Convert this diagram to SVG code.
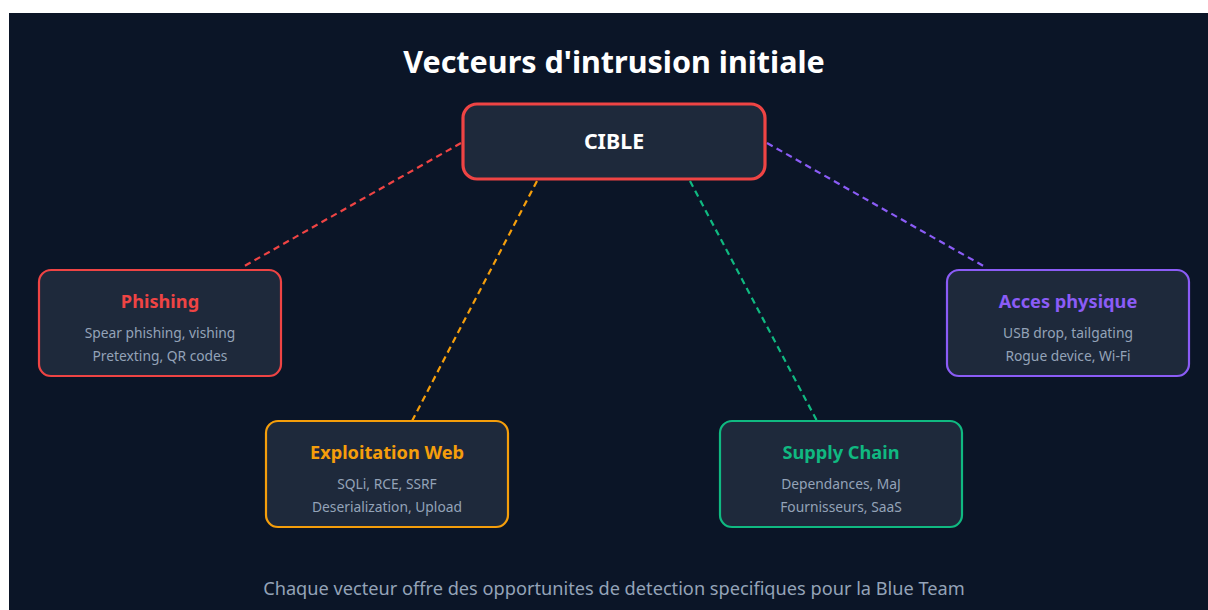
<svg xmlns="http://www.w3.org/2000/svg" width="1208" height="610" viewBox="0 0 1208 610">
<style>
text{font-family:"Noto Sans","Open Sans","DejaVu Sans",sans-serif;text-anchor:middle}
.title{font-size:30.5px;font-weight:700;fill:#ffffff}
.node{fill:#1e293b;stroke-width:2.2}
.ntitle{font-size:18.2px;font-weight:700}
.sub{font-size:13.8px;fill:#94a3b8}
.conn{fill:none;stroke-width:2.2;stroke-dasharray:6.5 4.5}
.foot{font-size:18.2px;fill:#94a3b8}
</style>
<rect x="0" y="0" width="1208" height="610" fill="#ffffff"/>
<rect x="9" y="13" width="1199" height="597" fill="#0b1527"/>
<text class="title" x="614" y="73">Vecteurs d'intrusion initiale</text>
<g id="connectors">
<line class="conn" x1="461" y1="143" x2="241" y2="268" stroke="#ef4444"/>
<line class="conn" x1="537" y1="181" x2="412" y2="421" stroke="#f59e0b"/>
<line class="conn" x1="690" y1="181" x2="817" y2="421" stroke="#10b981"/>
<line class="conn" x1="767" y1="143" x2="987" y2="268" stroke="#8b5cf6"/>
</g>
<g id="cible">
<rect x="463" y="104" width="302" height="75" rx="14" fill="#1e293b" stroke="#ef4444" stroke-width="3.2"/>
<text x="614" y="149" font-size="21.4" font-weight="700" fill="#ffffff">CIBLE</text>
</g>
<g id="phishing">
<rect class="node" x="39" y="270" width="242" height="106" rx="12" stroke="#ef4444"/>
<text class="ntitle" x="160" y="308" fill="#ef4444">Phishing</text>
<text class="sub" x="160" y="338">Spear phishing, vishing</text>
<text class="sub" x="160" y="361">Pretexting, QR codes</text>
</g>
<g id="web">
<rect class="node" x="266" y="421" width="242" height="106" rx="12" stroke="#f59e0b"/>
<text class="ntitle" x="387" y="459" fill="#f59e0b">Exploitation Web</text>
<text class="sub" x="387" y="489">SQLi, RCE, SSRF</text>
<text class="sub" x="387" y="512">Deserialization, Upload</text>
</g>
<g id="supply">
<rect class="node" x="720" y="421" width="242" height="106" rx="12" stroke="#10b981"/>
<text class="ntitle" x="841" y="459" fill="#10b981">Supply Chain</text>
<text class="sub" x="841" y="489">Dependances, MaJ</text>
<text class="sub" x="841" y="512">Fournisseurs, SaaS</text>
</g>
<g id="physique">
<rect class="node" x="947" y="270" width="242" height="106" rx="12" stroke="#8b5cf6"/>
<text class="ntitle" x="1068" y="308" fill="#8b5cf6">Acces physique</text>
<text class="sub" x="1068" y="338">USB drop, tailgating</text>
<text class="sub" x="1068" y="361">Rogue device, Wi-Fi</text>
</g>
<text class="foot" x="614" y="595">Chaque vecteur offre des opportunites de detection specifiques pour la Blue Team</text>
</svg>
